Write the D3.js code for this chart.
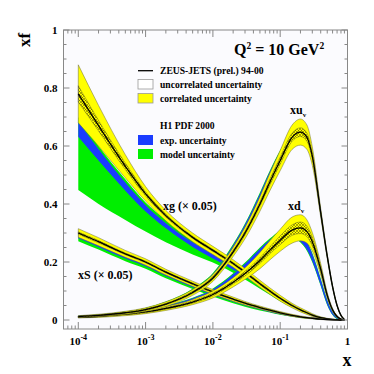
<!DOCTYPE html>
<html><head><meta charset="utf-8">
<script src="https://cdn.jsdelivr.net/npm/d3@7"></script>
<style>html,body{margin:0;padding:0;background:#fff;}svg{display:block;}</style>
</head><body>
<script>
// ---------- DATA ----------
const xs = [1e-4,2e-4,5e-4,1e-3,2e-3,5e-3,0.01,0.02,0.03,0.05,0.07,0.1,0.15,0.2,0.25,0.3,0.4,0.5,0.6,0.7,0.8,0.9];

// gluon xg (x 0.05)
const gZeus    = [0.78,0.67,0.53,0.435,0.36,0.285,0.24,0.195,0.165,0.125,0.10,0.075,0.05,0.035,0.025,0.017,0.008,0.004,0.002,0.001,0.0,0.0];
const gZeusCor = [0.10,0.07,0.04,0.025,0.018,0.015,0.014,0.013,0.013,0.012,0.011,0.010,0.008,0.007,0.006,0.005,0.003,0.002,0.001,0.0005,0,0];
const gZeusUnc = [0.028,0.018,0.011,0.007,0.005,0.004,0.004,0.004,0.004,0.004,0.004,0.003,0.003,0.002,0.002,0.002,0.001,0.001,0.0005,0,0,0];
const gH1      = [0.658,0.57,0.46,0.385,0.325,0.26,0.22,0.18,0.155,0.12,0.097,0.073,0.05,0.035,0.025,0.017,0.008,0.004,0.002,0.001,0,0];
const gH1Exp   = [0.026,0.02,0.014,0.011,0.009,0.008,0.008,0.007,0.007,0.006,0.006,0.005,0.004,0.003,0.003,0.002,0.001,0.001,0,0,0,0];
const gH1ModDn = [0.21,0.17,0.115,0.08,0.057,0.034,0.022,0.017,0.015,0.012,0.01,0.008,0.006,0.005,0.004,0.003,0.002,0.001,0.001,0.0005,0,0];
const gH1ModUp = [0.042,0.03,0.025,0.02,0.02,0.018,0.017,0.015,0.013,0.01,0.009,0.007,0.005,0.004,0.003,0.003,0.002,0.001,0,0,0,0];

// sea xS (x 0.05)
const sZeus    = [0.30,0.27,0.228,0.20,0.165,0.125,0.097,0.072,0.058,0.043,0.034,0.025,0.016,0.011,0.008,0.006,0.003,0.0015,0.0007,0.0003,0,0];
const sZeusCor = [0.015,0.014,0.012,0.011,0.010,0.009,0.008,0.007,0.006,0.005,0.0045,0.004,0.0035,0.003,0.0025,0.002,0.0015,0.001,0.0005,0.0003,0,0];
const sZeusUnc = [0.004,0.004,0.003,0.003,0.003,0.003,0.003,0.002,0.002,0.002,0.002,0.002,0.0015,0.0015,0.001,0.001,0.001,0.0005,0.0003,0,0,0];
const sH1      = [0.288,0.258,0.217,0.19,0.156,0.117,0.09,0.066,0.053,0.039,0.031,0.022,0.014,0.0095,0.007,0.005,0.0025,0.0012,0.0005,0.0002,0,0];
const sH1Exp   = [0.006,0.006,0.005,0.005,0.004,0.004,0.004,0.003,0.003,0.003,0.003,0.002,0.002,0.002,0.0015,0.001,0.001,0.0005,0.0003,0,0,0];
const sH1ModDn = [0.016,0.015,0.014,0.013,0.012,0.01,0.009,0.008,0.007,0.006,0.005,0.004,0.003,0.0025,0.002,0.0015,0.001,0.0005,0.0002,0.0001,0,0];
const sH1ModUp = [0.008,0.008,0.007,0.007,0.006,0.005,0.004,0.004,0.003,0.003,0.002,0.002,0.002,0.0015,0.001,0.001,0.0005,0.0003,0.0002,0.0001,0,0];

// u valence xu_v
const uZeus    = [0.012,0.016,0.025,0.036,0.055,0.095,0.145,0.235,0.30,0.40,0.475,0.55,0.63,0.648,0.63,0.565,0.37,0.22,0.115,0.05,0.016,0.002];
const uZeusCor = [0.003,0.004,0.005,0.006,0.008,0.01,0.012,0.016,0.02,0.025,0.03,0.035,0.042,0.045,0.042,0.032,0.015,0.008,0.005,0.003,0.002,0.001];
const uZeusUnc = [0.002,0.002,0.002,0.003,0.003,0.004,0.005,0.006,0.007,0.008,0.01,0.012,0.014,0.015,0.014,0.012,0.008,0.005,0.003,0.002,0.001,0.0005];
const uH1      = [0.013,0.017,0.026,0.038,0.058,0.1,0.153,0.25,0.32,0.425,0.50,0.57,0.635,0.645,0.625,0.56,0.37,0.22,0.115,0.05,0.016,0.002];
const uH1Exp   = [0.002,0.002,0.003,0.003,0.004,0.005,0.006,0.008,0.009,0.01,0.011,0.012,0.012,0.012,0.012,0.011,0.008,0.006,0.004,0.002,0.001,0];
const uH1Mod   = [0.002,0.002,0.003,0.004,0.006,0.008,0.009,0.012,0.013,0.015,0.015,0.015,0.015,0.015,0.015,0.014,0.01,0.007,0.005,0.003,0.001,0];

// d valence xd_v
const dZeus    = [0.010,0.013,0.02,0.028,0.04,0.062,0.088,0.13,0.16,0.205,0.24,0.275,0.31,0.318,0.305,0.27,0.175,0.085,0.035,0.012,0.003,0.0];
const dZeusCor = [0.003,0.004,0.005,0.006,0.007,0.009,0.012,0.016,0.02,0.028,0.033,0.038,0.045,0.045,0.04,0.032,0.02,0.01,0.005,0.003,0.001,0];
const dZeusUnc = [0.002,0.002,0.002,0.003,0.003,0.004,0.005,0.006,0.008,0.01,0.012,0.015,0.018,0.02,0.018,0.015,0.01,0.006,0.003,0.002,0.001,0];
const dH1      = [0.011,0.014,0.022,0.031,0.045,0.07,0.1,0.15,0.185,0.235,0.265,0.29,0.30,0.285,0.255,0.215,0.13,0.06,0.022,0.006,0.001,0];
const dH1Exp   = [0.002,0.002,0.003,0.003,0.004,0.005,0.006,0.008,0.009,0.011,0.012,0.013,0.014,0.014,0.013,0.012,0.01,0.007,0.004,0.002,0.001,0];
const dH1Mod   = [0.003,0.003,0.004,0.005,0.006,0.007,0.009,0.011,0.013,0.015,0.016,0.017,0.018,0.018,0.017,0.016,0.013,0.009,0.005,0.003,0.001,0];

const yTicks = [0,0.2,0.4,0.6,0.8,1];
const yTickLabels = ["0","0.2","0.4","0.6","0.8","1"];
const xTicks = [1e-4,1e-3,1e-2,1e-1,1];
const xTickExp = ["-4","-3","-2","-1",null];

// ---------- DRAW ----------
const W=374,H=374;
const L=63.5,R=347.5,T=30,B=329;
const svg=d3.select("body").append("svg").attr("width",W).attr("height",H);
const x=d3.scaleLog().domain([6.03e-5,1]).range([L,R]);
const y=d3.scaleLinear().domain([-0.031,1]).range([B,T]);
const FONT="'Liberation Serif','Times New Roman',serif";

const defs=svg.append("defs");
defs.append("clipPath").attr("id","clip").append("rect").attr("x",L).attr("y",T).attr("width",R-L).attr("height",B-T);
const pat=defs.append("pattern").attr("id","hatch").attr("patternUnits","userSpaceOnUse").attr("width",3).attr("height",3);
pat.append("path").attr("d","M0,0L3,3M3,0L0,3").attr("stroke","#000").attr("stroke-width",0.45).attr("opacity",0.75);

svg.append("rect").attr("x",L).attr("y",T).attr("width",R-L).attr("height",B-T).attr("fill","#fbfbfe");

const plot=svg.append("g").attr("clip-path","url(#clip)");
const curve=d3.curveMonotoneX;
function band(lo,hi,fill,stroke,sw){
  const idx=d3.range(xs.length);
  const a=d3.area().x(i=>x(xs[i])).y0(i=>y(lo[i])).y1(i=>y(hi[i])).curve(curve);
  plot.append("path").attr("d",a(idx)).attr("fill",fill).attr("stroke",stroke||"none").attr("stroke-width",sw||0);
}
function line(v,stroke,sw){
  const idx=d3.range(xs.length);
  const l=d3.line().x(i=>x(xs[i])).y(i=>y(v[i])).curve(curve);
  plot.append("path").attr("d",l(idx)).attr("fill","none").attr("stroke",stroke).attr("stroke-width",sw);
}
const pdfs=[
  {z:gZeus,zc:gZeusCor,zu:gZeusUnc,h:gH1,he:gH1Exp,hd:gH1ModDn,hu:gH1ModUp},
  {z:sZeus,zc:sZeusCor,zu:sZeusUnc,h:sH1,he:sH1Exp,hd:sH1ModDn,hu:sH1ModUp},
  {z:dZeus,zc:dZeusCor,zu:dZeusUnc,h:dH1,he:dH1Exp,hd:dH1Mod,hu:dH1Mod},
  {z:uZeus,zc:uZeusCor,zu:uZeusUnc,h:uH1,he:uH1Exp,hd:uH1Mod,hu:uH1Mod}
];
pdfs.forEach(p=>{
  band(p.h.map((v,i)=>v-p.hd[i]),p.h.map((v,i)=>v+p.hu[i]),"#00ee00");
  band(p.h.map((v,i)=>v-p.he[i]),p.h.map((v,i)=>v+p.he[i]),"#1a3cff");
});
pdfs.forEach(p=>{
  band(p.z.map((v,i)=>v-p.zc[i]),p.z.map((v,i)=>v+p.zc[i]),"#ffff00","#6a6a3a",0.5);
  band(p.z.map((v,i)=>v-p.zu[i]),p.z.map((v,i)=>v+p.zu[i]),"url(#hatch)","#333",0.35);
  line(p.z,"#000",1.3);
});

// frame & ticks
const ax=svg.append("g").attr("stroke","#888").attr("stroke-width",1);
ax.append("rect").attr("x",L).attr("y",T).attr("width",R-L).attr("height",B-T).attr("fill","none");
for(let v=0;v<=1.0001;v+=0.05){
  const major=Math.abs(Math.round(v*5)-v*5)<1e-6;
  const len=major?6:3;
  const yy=y(v);
  ax.append("line").attr("x1",L).attr("x2",L+len).attr("y1",yy).attr("y2",yy);
  ax.append("line").attr("x1",R).attr("x2",R-len).attr("y1",yy).attr("y2",yy);
}
for(let e=-5;e<=0;e++){
  for(let m=1;m<=9;m++){
    const v=m*Math.pow(10,e);
    if(v<6.03e-5||v>1.0001) continue;
    const len=m===1?7:3.5;
    const xx=x(v);
    ax.append("line").attr("x1",xx).attr("x2",xx).attr("y1",B).attr("y2",B-len);
    ax.append("line").attr("x1",xx).attr("x2",xx).attr("y1",T).attr("y2",T+len);
  }
}
// y labels
yTicks.forEach((v,i)=>{
  svg.append("text").attr("x",L-6).attr("y",y(v)+4).attr("text-anchor","end")
    .attr("font-family",FONT).attr("font-weight","bold").attr("font-size",11).text(yTickLabels[i]);
});
// x labels
xTicks.forEach((v,i)=>{
  const t=svg.append("text").attr("x",x(v)).attr("y",345).attr("text-anchor","middle")
    .attr("font-family",FONT).attr("font-weight","bold").attr("font-size",11);
  if(xTickExp[i]===null){ t.text("1"); }
  else { t.append("tspan").text("10"); t.append("tspan").attr("dy",-5).attr("font-size",8).text(xTickExp[i]); }
});
// axis titles
svg.append("text").attr("transform","translate(30,40) rotate(-90)").attr("text-anchor","middle")
  .attr("font-family",FONT).attr("font-weight","bold").attr("font-size",17).text("xf");
svg.append("text").attr("x",347).attr("y",366).attr("text-anchor","middle")
  .attr("font-family",FONT).attr("font-weight","bold").attr("font-size",18).text("x");
// title
const ti=svg.append("text").attr("x",234).attr("y",55).attr("font-family",FONT).attr("font-weight","bold").attr("font-size",16);
ti.append("tspan").text("Q");
ti.append("tspan").attr("dy",-6).attr("font-size",9.5).text("2");
ti.append("tspan").attr("dy",6).text(" = 10 GeV");
ti.append("tspan").attr("dy",-6).attr("font-size",9.5).text("2");

// legend
const lg=svg.append("g").attr("font-family",FONT).attr("font-weight","bold").attr("font-size",9.6);
lg.append("line").attr("x1",138).attr("x2",153).attr("y1",70.7).attr("y2",70.7).attr("stroke","#000").attr("stroke-width",1.3);
lg.append("text").attr("x",160).attr("y",74).text("ZEUS-JETS (prel.) 94-00");
lg.append("rect").attr("x",138).attr("y",79.5).attr("width",15).attr("height",9.5).attr("fill","#fff").attr("stroke","#999").attr("stroke-width",0.8);
lg.append("text").attr("x",160).attr("y",88).text("uncorrelated uncertainty");
lg.append("rect").attr("x",138).attr("y",93.5).attr("width",15).attr("height",9.5).attr("fill","#ffff00").attr("stroke","#999").attr("stroke-width",0.8);
lg.append("text").attr("x",160).attr("y",102).text("correlated uncertainty");
lg.append("text").attr("x",160).attr("y",129).text("H1 PDF 2000");
lg.append("rect").attr("x",138).attr("y",135).attr("width",15).attr("height",10).attr("fill","#1a3cff");
lg.append("text").attr("x",160).attr("y",144).text("exp. uncertainty");
lg.append("rect").attr("x",138).attr("y",149).attr("width",15).attr("height",10).attr("fill","#00ee00");
lg.append("text").attr("x",160).attr("y",158).text("model uncertainty");

// curve labels
const cl=svg.append("g").attr("font-family",FONT).attr("font-weight","bold").attr("font-size",12);
function lab(tx,ty,main,sub,rest){
  const t=cl.append("text").attr("x",tx).attr("y",ty);
  t.append("tspan").text(main);
  if(sub){ t.append("tspan").attr("dy",2.5).attr("font-size",7).text(sub); }
  if(rest){ t.append("tspan").attr("dy",sub?-2.5:0).text(rest); }
}
lab(290,114,"xu","v");
lab(288,210,"xd","v");
lab(163,210,"xg (\u00d7 0.05)");
lab(78,279,"xS (\u00d7 0.05)");
</script>
</body></html>
